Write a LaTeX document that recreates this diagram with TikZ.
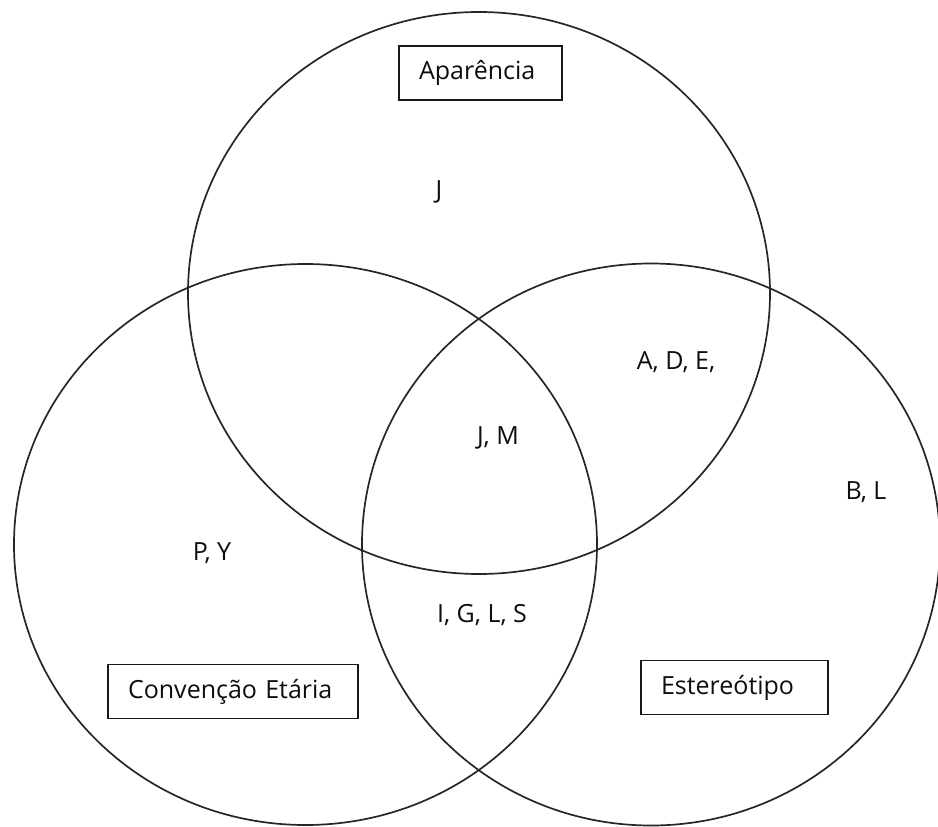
\documentclass[tikz,border=0pt]{standalone}
\usepackage{fontspec}
\setmainfont{Open Sans}
\usetikzlibrary{positioning}
\tikzset{
  set/.style={line width=1.7pt,draw=black!85},
  setname/.style={draw=black!90,line width=1.6pt,minimum height=54pt,inner xsep=20pt,align=left,text=black!95,font=\fontsize{25}{28}\selectfont},
  members/.style={text=black!95,font=\fontsize{25}{28}\selectfont,inner sep=0pt}
}

\begin{document}
\begin{tikzpicture}[x=1pt,y=-1pt]
\useasboundingbox (0,0) rectangle (938,827);
\coordinate (ap) at (479,293);
\coordinate (ce) at (305.5,544.5);
\coordinate (es) at (651,544.5);
\draw[set] (ap) ellipse [x radius=291,y radius=281];
\draw[set] (ce) ellipse [x radius=291.5,y radius=280.5];
\draw[set] (es) ellipse [x radius=289,y radius=281];
% nomes dos conjuntos
\node[setname,text width=123pt] (napar) at (480.5,73) {Aparência};
\node[setname,text width=210pt] (nconv) at (233,691.5) {Convenção Etária};
\node[setname,text width=147pt] (nest) at (734.5,687.5) {Estereótipo};
% elementos
\node[members] (m1) at (439,192) {J};
\node[members] (m2) at (498,438) {J, M};
\node[members] (m3) at (676,362) {A, D, E,};
\node[members] (m4) at (866,492) {B, L};
\node[members] (m5) at (212,553) {P, Y};
\node[members] (m6) at (482,615) {I, G, L, S};
\end{tikzpicture}
\end{document}
